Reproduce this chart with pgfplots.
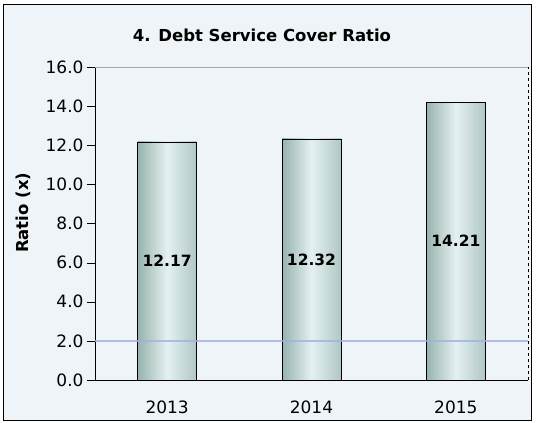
\documentclass[border=0pt]{standalone}
\usepackage{fontspec}
\setmainfont{DejaVu Sans}
\usepackage{pgfplots}
\pgfplotsset{compat=1.18}
\definecolor{bgc}{HTML}{EEF4F8}
\definecolor{barL}{HTML}{98B3AE}
\definecolor{barM}{HTML}{E4F0F1}
\definecolor{barR}{HTML}{B0C7C5}
\definecolor{refl}{HTML}{9FB2E2}
\begin{document}
\begin{tikzpicture}
\useasboundingbox (0,0) rectangle (536bp,423bp);
\draw[fill=bgc, draw=black, line width=0.6bp] (3bp,3bp) rectangle (531bp,419bp);
\node at (262bp,388bp) {\fontsize{16.5bp}{18bp}\selectfont\bfseries 4. Debt Service Cover Ratio};
\begin{axis}[
  at={(95bp,43bp)}, anchor=south west,
  scale only axis, width=433bp, height=313bp,
  xmin=-0.5, xmax=2.5, ymin=0, ymax=16,
  ytick={0,2,...,16},
  yticklabel style={/pgf/number format/.cd, fixed, fixed zerofill, precision=1},
  /pgf/number format/assume math mode=true,
  xtick={0,1,2}, xticklabels={2013,2014,2015},
  x tick style={draw=none},
  extra x ticks={0.5,1.5}, extra x tick labels={},
  extra x tick style={tick style={draw=black}, major tick length=6bp},
  tick align=outside, major tick length=8bp,
  y tick style={black},
  tick label style={font=\fontsize{17bp}{19bp}\selectfont},
  xticklabel style={yshift=-9bp},
  ylabel={\bfseries Ratio (x)},
  ylabel style={at={(axis description cs:-0.165,0.534)}, anchor=center, font=\fontsize{16.5bp}{18bp}\selectfont},
  axis x line*=bottom, axis y line*=left,
  axis line style={black, line width=0.8bp},
  ybar, bar width=59bp, bar shift=0pt,
  clip=false,
]
\addplot[ybar, bar shift=0pt, draw=black, line width=0.8bp, left color=barL, right color=barR, middle color=barM]
  coordinates {(0,12.17)};
\addplot[ybar, bar shift=0pt, draw=black, line width=0.8bp, left color=barL, right color=barR, middle color=barM]
  coordinates {(1,12.32)};
\addplot[ybar, bar shift=0pt, draw=black, line width=0.8bp, left color=barL, right color=barR, middle color=barM]
  coordinates {(2,14.21)};
\addplot[sharp plot, refl, line width=1.8bp, opacity=0.8] coordinates {(-0.5,2) (2.5,2)};
\addplot[sharp plot, gray!70, line width=0.6bp] coordinates {(-0.5,16) (2.5,16)};
\addplot[sharp plot, black, line width=0.8bp, dashed] coordinates {(2.5,0) (2.5,16)};
\addplot[only marks, mark=none, nodes near coords, point meta=explicit symbolic,
  every node near coord/.append style={anchor=center, font=\fontsize{15.5bp}{17bp}\selectfont\bfseries}]
  coordinates {(0,6.085)[12.17] (1,6.16)[12.32] (2,7.105)[14.21]};
\end{axis}
\end{tikzpicture}
\end{document}
